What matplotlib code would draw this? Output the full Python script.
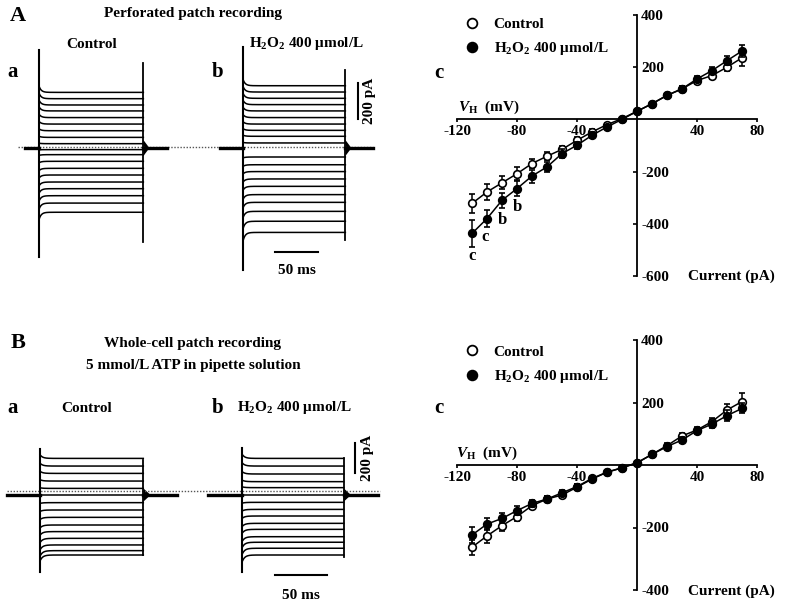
import numpy as np
import matplotlib; matplotlib.use("Agg")
import matplotlib.pyplot as plt
from matplotlib.lines import Line2D

plt.rcParams['font.family'] = 'Liberation Serif'
plt.rcParams['font.weight'] = 'bold'
plt.rcParams['mathtext.fontset'] = 'custom'
plt.rcParams['mathtext.rm'] = 'Liberation Serif:bold'
plt.rcParams['mathtext.it'] = 'Liberation Serif:italic:bold'
plt.rcParams['mathtext.bf'] = 'Liberation Serif:bold'

W, H = 786, 605

# ---- I-V data (holding potential mV -> current pA) ----
vh = [-110, -100, -90, -80, -70, -60, -50, -40, -30, -20, -10, 0, 10, 20, 30, 40, 50, 60, 70]
ivA_ctrl = [-322, -278, -243, -208, -169, -141, -115, -80, -48, -20, 3, 31, 60, 92, 117, 149, 168, 200, 236]
ivA_ctrl_err = [36, 32, 25, 25, 18, 16, 14, 12, 10, 8, 6, 8, 8, 10, 10, 12, 12, 16, 30]
ivA_h2o2 = [-437, -380, -310, -265, -217, -182, -131, -99, -61, -29, 0, 31, 60, 92, 117, 155, 187, 225, 262]
ivA_h2o2_err = [50, 34, 28, 30, 25, 20, 16, 14, 12, 8, 6, 8, 8, 10, 10, 12, 14, 18, 23]
ivB_ctrl = [-263, -227, -194, -165, -130, -109, -96, -71, -45, -23, -9, 7, 34, 62, 93, 112, 139, 176, 203]
ivB_ctrl_err = [24, 21, 18, 15, 12, 10, 10, 9, 8, 7, 6, 6, 7, 8, 9, 10, 12, 18, 27]
ivB_h2o2 = [-224, -189, -171, -146, -123, -109, -89, -69, -43, -23, -9, 7, 34, 59, 80, 110, 131, 158, 181]
ivB_h2o2_err = [25, 19, 16, 14, 12, 10, 9, 8, 8, 7, 6, 6, 7, 8, 9, 10, 14, 18, 16]

# significance labels under H2O2 points in A
sig_x = [-110, -101, -90, -80]
sig_y = [-523, -452, -386, -335]
sig_txt = ["c", "c", "b", "b"]

# ---- current traces: steady-state levels (pA) ----
trA_ctrl = [309, 274, 239, 206, 169, 133, 96, 59, 24, -9, -37, -74, -113, -150, -189, -226, -265, -306, -357]
trA_h2o2 = [346, 311, 276, 241, 206, 169, 133, 98, 65, 28, -50, -93, -131, -172, -213, -259, -302, -352, -407, -469]
trB_ctrl = [244, 193, 144, 93, 44, 0, -51, -100, -149, -200, -244, -289, -333, -371, -400]
trB_h2o2 = [244, 193, 140, 89, 49, 0, -49, -96, -140, -189, -229, -278, -315, -355, -400]
# capacitive spikes (top, bottom) in pA at step onset / offset
spkA_ctrl = ([544, -606], [472, -522])
spkA_h2o2 = ([561, -678], [433, -511])
spkB_ctrl = ([305, -511], [233, -400])
spkB_h2o2 = ([311, -511], [244, -411])
# step timing (ms): onset, duration, holding before, holding after offset
stepA_ctrl = (0, 120, -16, 27)
stepA_h2o2 = (235, 118, -27, 32)
stepB_ctrl = (0, 100, -32, 33)
stepB_h2o2 = (196, 98, -33, 33)

TRANS_AMP, TRANS_TAU = 0.1, 2.5

fig = plt.figure(figsize=(W / 100, H / 100), dpi=100)


def px_axes(l, t, r, b):
    ax = fig.add_axes([l / W, 1 - b / H, (r - l) / W, (b - t) / H])
    return ax


def ftext(x, y, s, **kw):
    kw.setdefault("ha", "center")
    kw.setdefault("va", "center")
    fig.text(x / W, 1 - y / H, s, **kw)


def trace_axes(t, b, x0, y0, pxms, pxpa):
    ax = px_axes(0, t, 390, b)
    ax.set_xlim((0 - x0) / pxms, (390 - x0) / pxms)
    ax.set_ylim((y0 - b) / pxpa, (y0 - t) / pxpa)
    ax.axis("off")
    return ax


def draw_traces(ax, step, levels, spk):
    t0, dur, pre, post = step
    tt = np.linspace(0, dur, 300)
    for L in levels:
        ax.plot(t0 + tt, L * (1 + TRANS_AMP * np.exp(-tt / TRANS_TAU)), color="k", lw=1.1)
    ax.plot([t0, t0], spk[0], color="k", lw=1.5)
    ax.plot([t0 + dur] * 2, spk[1], color="k", lw=1.3)
    ax.plot([t0 + pre, t0], [0, 0], color="k", lw=2.4)
    ax.plot([t0 + dur, t0 + dur + post], [0, 0], color="k", lw=2.4)
    ax.fill([t0 + dur, t0 + dur + 7, t0 + dur], [45, 0, -45], color="k", lw=0)


# ---- A traces ----
axA = trace_axes(40, 285, 39.3, 148, 0.867, 0.18)
axA.plot([-24.6, 385], [4, 4], color="#555", lw=1.0, ls=(0, (1, 1.2)))
draw_traces(axA, stepA_ctrl, trA_ctrl, spkA_ctrl)
draw_traces(axA, stepA_h2o2, trA_h2o2, spkA_h2o2)
axA.plot([367.6, 367.6], [160, 360], color="k", lw=1.5)
axA.text(381, 260, "200 pA", rotation=90, ha="center", va="center", fontsize=11)
axA.plot([272, 322], [-576, -576], color="k", lw=1.5)
axA.text(297, -678, "50 ms", ha="center", va="center", fontsize=11)

# ---- B traces ----
axB = trace_axes(420, 605, 40, 495, 1.033, 0.15)
axB.plot([-32, 329], [29, 29], color="#555", lw=1.0, ls=(0, (1, 1.2)))
draw_traces(axB, stepB_ctrl, trB_ctrl, spkB_ctrl)
draw_traces(axB, stepB_h2o2, trB_h2o2, spkB_h2o2)
axB.plot([305, 305], [149, 349], color="k", lw=1.5)
axB.text(317.5, 247, "200 pA", rotation=90, ha="center", va="center", fontsize=11)
axB.plot([227.5, 277.5], [-533, -533], color="k", lw=1.5)
axB.text(252.5, -667, "50 ms", ha="center", va="center", fontsize=11)


# ---- I-V plots ----
def iv_axes(t, b, ylim, yticks, ctrl, ce, h2, he):
    ax = px_axes(457, t, 757, b)
    ax.set_xlim(-120, 80)
    ax.set_ylim(*ylim)
    for s in ["left", "top"]:
        ax.spines[s].set_visible(False)
    ax.spines["right"].set_position(("data", 0))
    ax.spines["bottom"].set_position(("data", 0))
    for s in ["right", "bottom"]:
        ax.spines[s].set_linewidth(1.3)
    ax.yaxis.tick_right()
    ax.set_yticks(yticks)
    ax.set_yticklabels([str(v) for v in yticks])
    ax.tick_params(axis="y", direction="in", length=3, width=1.2, pad=3, labelsize=11)
    ax.set_xticks([-120, -80, -40, 40, 80])
    ax.set_xticklabels(["-120", "-80", "-40", "40", "80"])
    ax.tick_params(axis="x", direction="out", length=2, width=1.2, pad=2, labelsize=11)
    ax.patch.set_visible(False)
    ax.errorbar(vh, ctrl, yerr=ce, fmt="-o", color="k", mfc="white", mec="k",
                ms=5.5, mew=1.2, lw=1.1, elinewidth=1.1, capsize=2.5, capthick=1.1, zorder=3)
    ax.errorbar(vh, h2, yerr=he, fmt="-o", color="k", mfc="k", mec="k",
                ms=5.5, mew=1.2, lw=1.1, elinewidth=1.1, capsize=2.5, capthick=1.1, zorder=4)
    return ax


ivA = iv_axes(15, 276, (-600, 400), [-600, -400, -200, 200, 400], ivA_ctrl, ivA_ctrl_err, ivA_h2o2, ivA_h2o2_err)
for x, y, s in zip(sig_x, sig_y, sig_txt):
    ivA.text(x, y, s, ha="center", va="center", fontsize=12)
ivB = iv_axes(340, 590, (-400, 400), [-400, -200, 200, 400], ivB_ctrl, ivB_ctrl_err, ivB_h2o2, ivB_h2o2_err)

handles = [Line2D([], [], marker="o", ls="none", mfc="white", mec="k", ms=7, mew=1.3),
           Line2D([], [], marker="o", ls="none", mfc="k", mec="k", ms=7, mew=1.3)]
labels = ["Control", "H$_2$O$_2$ 400 μmol/L"]
for ax, yc in [(ivA, 37.5), (ivB, 365)]:
    ax.legend(handles, labels, loc="center left", bbox_to_anchor=(466 / W, 1 - yc / H),
              bbox_transform=fig.transFigure, frameon=False, borderpad=0, borderaxespad=0,
              handlelength=0.8, handletextpad=1.0, labelspacing=0.6, fontsize=11)

# axis captions on I-V
ftext(458, 107, "$V_\\mathrm{H}$  (mV)", ha="left", fontsize=11)
ftext(688, 276, "Current (pA)", ha="left", fontsize=11)
ftext(456, 453, "$V_\\mathrm{H}$  (mV)", ha="left", fontsize=11)
ftext(688, 591, "Current (pA)", ha="left", fontsize=11)

# ---- titles and panel letters ----
ftext(18, 16, "A", fontsize=16)
ftext(193, 13, "Perforated patch recording", fontsize=11)
ftext(92, 44, "Control", fontsize=11)
ftext(306, 44, "H$_2$O$_2$ 400 μmol/L", fontsize=11)
ftext(13, 72, "a", fontsize=15)
ftext(218, 72, "b", fontsize=15)
ftext(439, 73, "c", fontsize=15)

ftext(18, 343, "B", fontsize=16)
ftext(193, 343, "Whole-cell patch recording", fontsize=11)
ftext(193, 365, "5 mmol/L ATP in pipette solution", fontsize=11)
ftext(13, 408, "a", fontsize=15)
ftext(87, 408, "Control", fontsize=11)
ftext(218, 408, "b", fontsize=15)
ftext(294, 408, "H$_2$O$_2$ 400 μmol/L", fontsize=11)
ftext(439, 408, "c", fontsize=15)

fig.savefig("out.png", dpi=100)
